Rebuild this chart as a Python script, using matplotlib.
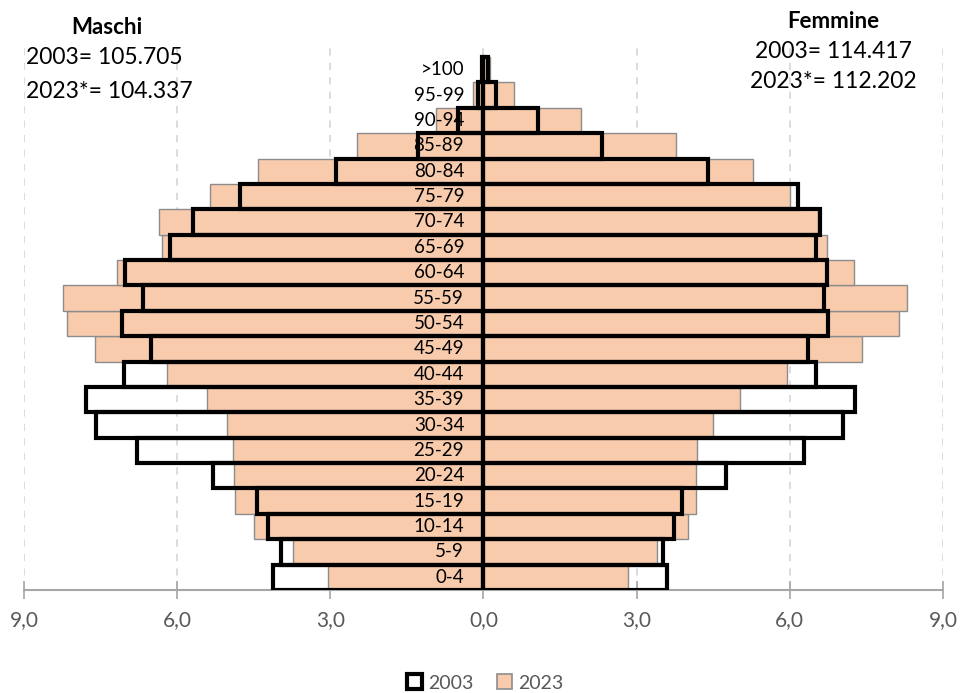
import matplotlib
matplotlib.use("Agg")
import matplotlib.pyplot as plt
from matplotlib.patches import Patch
import numpy as np

plt.rcParams['font.family'] = ['Lato', 'DejaVu Sans']

ages = ["0-4", "5-9", "10-14", "15-19", "20-24", "25-29", "30-34", "35-39",
        "40-44", "45-49", "50-54", "55-59", "60-64", "65-69", "70-74", "75-79",
        "80-84", "85-89", "90-94", "95-99", ">100"]
# percent shares (males shown on the left)
m2003 = [4.12, 3.96, 4.22, 4.43, 5.30, 6.78, 7.59, 7.78, 7.04, 6.51, 7.08,
         6.67, 7.02, 6.15, 5.69, 4.76, 2.88, 1.29, 0.50, 0.10, 0.03]
m2023 = [3.05, 3.73, 4.50, 4.86, 4.88, 4.90, 5.02, 5.41, 6.19, 7.61, 8.16,
         8.24, 7.18, 6.29, 6.35, 5.35, 4.41, 2.47, 0.93, 0.20, 0.04]
f2003 = [3.59, 3.52, 3.74, 3.88, 4.75, 6.27, 7.04, 7.27, 6.51, 6.35, 6.75,
         6.67, 6.73, 6.51, 6.59, 6.16, 4.39, 2.33, 1.07, 0.24, 0.08]
f2023 = [2.84, 3.40, 4.01, 4.16, 4.17, 4.18, 4.49, 5.02, 5.94, 7.41, 8.14,
         8.29, 7.25, 6.73, 6.55, 6.00, 5.27, 3.77, 1.90, 0.60, 0.12]
xticks = [-9, -6, -3, 0, 3, 6, 9]
xticklabels = ["9,0", "6,0", "3,0", "0,0", "3,0", "6,0", "9,0"]

PEACH = "#F8CBAD"
W, H = 962, 693
fig = plt.figure(figsize=(W / 100, H / 100), dpi=100)
ax = fig.add_axes([24 / W, 1 - 590 / H, (943 - 24) / W, (590 - 45) / H])

y = np.arange(len(ages))
ax.barh(y, -np.array(m2023), height=1.0, color=PEACH, edgecolor="#8C8C8C",
        linewidth=1.0, zorder=2)
ax.barh(y, f2023, height=1.0, color=PEACH, edgecolor="#8C8C8C",
        linewidth=1.0, zorder=2)
ax.barh(y, -np.array(m2003), height=1.0, facecolor="none", edgecolor="black",
        linewidth=3.0, zorder=3)
ax.barh(y, f2003, height=1.0, facecolor="none", edgecolor="black",
        linewidth=3.0, zorder=3)

for i, lab in enumerate(ages):
    ax.text(-0.38, i, lab, ha="right", va="center", fontsize=13.5,
            color="black", zorder=5)

row_px = (590 - 57) / 21
ax.set_ylim(-0.5, 20.5 + 12 / row_px)
ax.set_xlim(-9, 9)
ax.set_yticks([])
ax.set_xticks(xticks)
ax.set_xticklabels(xticklabels, fontsize=15, color="#595959")
ax.tick_params(axis="x", direction="inout", length=13, width=1.2,
               color="#A6A6A6", pad=8)
for s in ["left", "right", "top"]:
    ax.spines[s].set_visible(False)
ax.spines["bottom"].set_color("#A6A6A6")
ax.spines["bottom"].set_linewidth(1.5)
ax.spines["bottom"].set_zorder(1)
ax.xaxis.grid(True, color="#D9D9D9", linewidth=1.3, linestyle=(0, (4, 4)),
              zorder=0)
ax.set_axisbelow(True)

# annotations
fig.text(107 / W, 1 - 27 / H, "Maschi", ha="center", va="center",
         fontsize=16, fontweight="bold")
fig.text(26 / W, 1 - 57 / H, "2003= 105.705", ha="left", va="center",
         fontsize=16.5)
fig.text(26 / W, 1 - 91 / H, "2023*= 104.337", ha="left", va="center",
         fontsize=16.5)
fig.text(833 / W, 1 - 21 / H, "Femmine", ha="center", va="center",
         fontsize=16, fontweight="bold")
fig.text(833 / W, 1 - 52 / H, "2003= 114.417", ha="center", va="center",
         fontsize=16.5)
fig.text(833 / W, 1 - 81 / H, "2023*= 112.202", ha="center", va="center",
         fontsize=16.5)

handles = [Patch(facecolor="white", edgecolor="black", linewidth=3),
           Patch(facecolor=PEACH, edgecolor="#8C8C8C", linewidth=1.2)]
fig.legend(handles, ["2003", "2023"], loc="center",
           bbox_to_anchor=(485 / W, 1 - 683 / H), ncol=2, frameon=False,
           fontsize=14, labelcolor="#595959", handlelength=0.8,
           handleheight=0.8, handletextpad=0.3, columnspacing=1.2)

fig.savefig("out.png", dpi=100)
